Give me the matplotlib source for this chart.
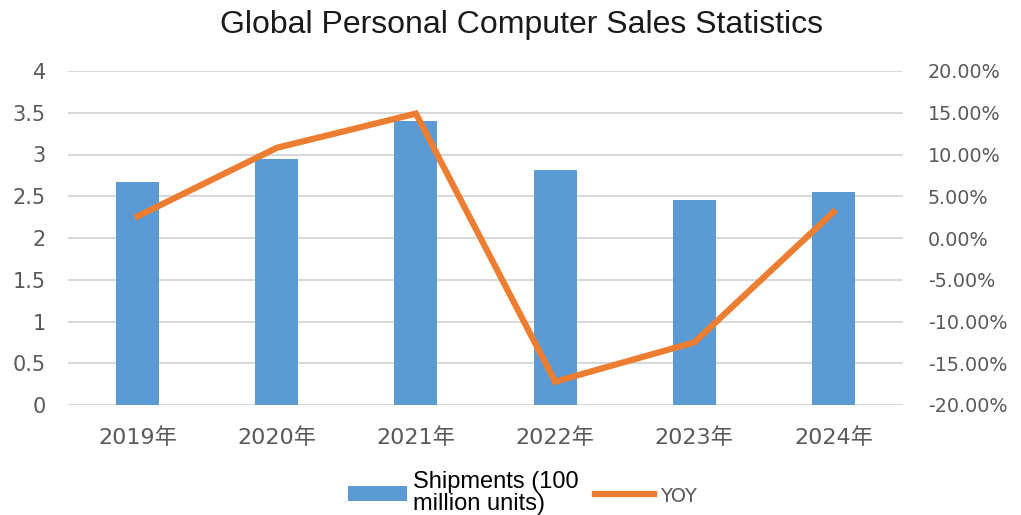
import matplotlib
matplotlib.use("Agg")
import matplotlib.pyplot as plt
from matplotlib.ticker import FuncFormatter, MultipleLocator
from matplotlib.patches import Patch
from matplotlib.lines import Line2D

years = ["2019年", "2020年", "2021年", "2022年", "2023年", "2024年"]
shipments = [2.67, 2.95, 3.40, 2.81, 2.45, 2.55]
yoy = [2.6, 10.8, 14.9, -17.2, -12.5, 3.1]

title = "Global Personal Computer Sales Statistics"
bar_label = "Shipments (100\nmillion units)"
line_label = "YOY"

BLUE = "#5b9bd5"
ORANGE = "#ed7d31"
TICK = "#595959"
GRID = "#d9d9d9"

plt.rcParams['font.family'] = ['DejaVu Sans', 'Noto Sans CJK SC']

fig = plt.figure(figsize=(10.21, 5.15), dpi=100)
ax = fig.add_axes([68/1021, 1-405/515, (903-68)/1021, (405-71)/515])
ax2 = ax.twinx()

x = list(range(len(years)))
ax.bar(x, shipments, width=0.31, color=BLUE, zorder=2)
ax.set_ylim(0, 4)
ax.set_xlim(-0.5, len(years)-0.5)
ax.yaxis.set_major_locator(MultipleLocator(0.5))
ax.yaxis.set_major_formatter(FuncFormatter(lambda v, p: f"{v:g}"))
ax.grid(axis='y', color=GRID, linewidth=1.5, zorder=0)
ax.set_axisbelow(True)
ax.set_xticks(x)
ax.set_xticklabels(years)

ax2.plot(x, yoy, color=ORANGE, linewidth=4.5, solid_joinstyle='miter', zorder=3)
ax2.set_ylim(-20, 20)
ax2.yaxis.set_major_locator(MultipleLocator(5))
ax2.yaxis.set_major_formatter(FuncFormatter(lambda v, p: f"{v:.2f}%"))

for a in (ax, ax2):
    for s in a.spines.values():
        s.set_visible(False)
    a.tick_params(length=0, colors=TICK)
ax.tick_params(axis='y', pad=16, labelsize=15)
ax2.tick_params(axis='y', pad=18, labelsize=13.8)
ax.tick_params(axis='x', pad=16, labelsize=16)

fig.text(0.511, 1-25/515, title, ha='center', va='center', fontsize=23,
         family='Liberation Sans', color='#1a1a1a')

handles = [Patch(facecolor=BLUE, edgecolor='none'),
           Line2D([0], [0], color=ORANGE, linewidth=4.5)]
leg = fig.legend(handles, [bar_label, line_label], loc='center', ncol=2,
                 bbox_to_anchor=(0.512, 1-493/515), frameon=False,
                 prop={'family': 'Liberation Sans', 'size': 17},
                 handlelength=2.5, handleheight=0.6, columnspacing=0.7,
                 handletextpad=0.25, labelspacing=0.1)
for t in leg.get_texts():
    t.set_linespacing(1.0)
leg.get_texts()[1].set_fontsize(14)
leg.get_texts()[1].set_color(TICK)
leg.get_texts()[1].set_family('DejaVu Sans')

fig.savefig("out.png", dpi=100)
